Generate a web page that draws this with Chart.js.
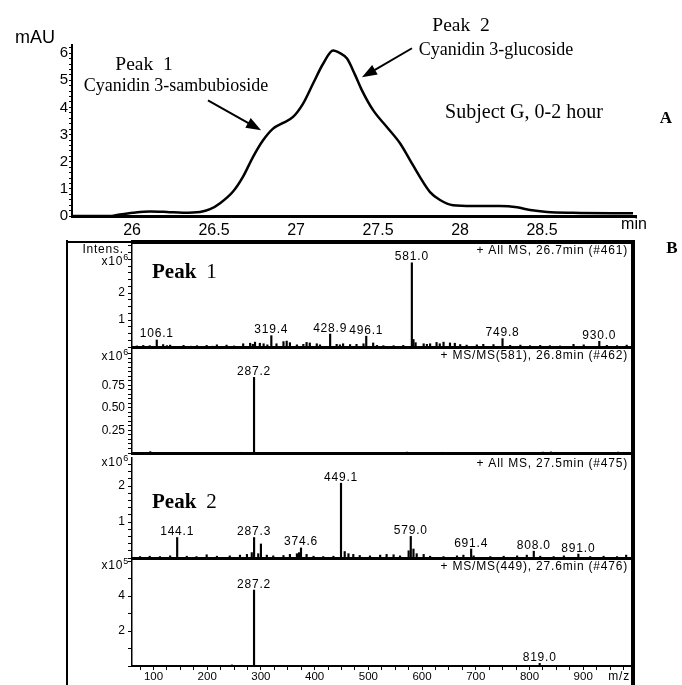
<!DOCTYPE html>
<html><head><meta charset="utf-8">
<script src="https://cdn.jsdelivr.net/npm/chart.js@4.4.1/dist/chart.umd.min.js"></script>
<style>
html,body{margin:0;padding:0;background:#fff;width:682px;height:685px;overflow:hidden}
body{position:relative}
canvas{position:absolute;left:0;top:0}
.ln{position:absolute;background:#000}
</style></head><body>
<div class="ln" style="left:66px;top:240px;width:1.5px;height:445px"></div>
<div class="ln" style="left:66px;top:241px;width:66px;height:2px"></div>
<div class="ln" style="left:131px;top:240px;width:503px;height:4px"></div>
<div class="ln" style="left:631px;top:240px;width:4px;height:445px"></div>
<canvas id="cA" width="682" height="685"></canvas>
<canvas id="c1" width="682" height="685"></canvas>
<canvas id="c2" width="682" height="685"></canvas>
<canvas id="c3" width="682" height="685"></canvas>
<canvas id="c4" width="682" height="685"></canvas>
<script>
// ---------------- DATA ----------------
// A: UV chromatogram (retention time, min / absorbance, mAU)
const chromTime = [25.634, 25.866, 25.909, 26.006, 26.110, 26.213, 26.311, 26.415, 26.476, 26.537,
                   26.616, 26.677, 26.738, 26.799, 26.860, 26.921, 26.982, 27.043, 27.104, 27.165,
                   27.226, 27.268, 27.311, 27.360, 27.402, 27.470, 27.555, 27.634, 27.695, 27.756,
                   27.817, 27.878, 27.957, 28.079, 28.244, 28.348, 28.427, 28.530, 28.689, 29.055];
const chromMAU  = [0, 0, 0.04, 0.12, 0.17, 0.15, 0.12, 0.15, 0.25, 0.47,
                   0.90, 1.45, 2.18, 2.79, 3.22, 3.43, 3.65, 4.14, 4.88, 5.61,
                   6.10, 6.00, 5.80, 5.20, 4.63, 3.90, 3.27, 2.68, 2.06, 1.43,
                   0.88, 0.59, 0.40, 0.37, 0.37, 0.32, 0.22, 0.15, 0.12, 0.10];
const timeTickLabels = [26, 26.5, 27, 27.5, 28, 28.5];
const mauTickLabels = [0, 1, 2, 3, 4, 5, 6];

// B1: + All MS, 26.7min (#461), intensity x10^6
const ms1PeakMz  = [106.1, 319.4, 428.9, 496.1, 581.0, 749.8, 930.0];
const ms1PeakInt = [0.26, 0.42, 0.48, 0.40, 3.12, 0.31, 0.21];
const ms1NoiseMz  = [69, 81, 93, 118, 125, 131, 156, 170, 181, 199, 210, 218, 236, 250, 267, 280, 285, 289, 298, 305,
                     312, 329, 342, 348, 354, 367, 379, 385, 391, 404, 410, 441, 447, 453, 466, 478, 491, 509, 516, 528,
                     547, 565, 584, 588, 603, 609, 615, 627, 633, 640, 652, 661, 671, 683, 702, 714, 733, 764, 783, 801,
                     820, 838, 857, 882, 901, 944, 963, 981];
const ms1NoiseInt = [0.04, 0.06, 0.05, 0.09, 0.05, 0.07, 0.06, 0.03, 0.05, 0.06, 0.03, 0.08, 0.07, 0.04, 0.12, 0.14, 0.10, 0.18, 0.14, 0.12,
                     0.08, 0.12, 0.20, 0.22, 0.16, 0.08, 0.10, 0.17, 0.15, 0.12, 0.08, 0.10, 0.08, 0.12, 0.09, 0.10, 0.12, 0.15, 0.06, 0.05,
                     0.05, 0.06, 0.28, 0.16, 0.12, 0.10, 0.12, 0.17, 0.12, 0.18, 0.15, 0.14, 0.09, 0.07, 0.08, 0.10, 0.09, 0.06, 0.07, 0.05,
                     0.06, 0.05, 0.04, 0.10, 0.08, 0.06, 0.05, 0.07];
const ms1TickLabels = [1, 2];

// B2: + MS/MS(581), 26.8min (#462), intensity x10^6
const ms2PeakMz  = [287.2];
const ms2PeakInt = [0.84];
const ms2NoiseMz  = [94, 245, 262, 572, 637, 825, 840, 850, 965, 975];
const ms2NoiseInt = [0.015, 0.006, 0.008, 0.010, 0.008, 0.010, 0.012, 0.008, 0.010, 0.008];
const ms2TickLabels = [0.25, 0.5, 0.75];

// B3: + All MS, 27.5min (#475), intensity x10^6
const ms3PeakMz  = [144.1, 287.3, 374.6, 449.1, 579.0, 691.4, 808.0, 891.0];
const ms3PeakInt = [0.57, 0.57, 0.28, 2.08, 0.60, 0.25, 0.19, 0.11];
const ms3NoiseMz  = [75, 93, 112, 131, 162, 180, 199, 218, 242, 261, 274, 283, 295, 300, 311, 323, 342, 354, 367, 371,
                     385, 398, 416, 435, 456, 463, 472, 484, 503, 522, 534, 547, 559, 575, 584, 590, 603, 615, 640, 665,
                     677, 696, 727, 752, 777, 795, 820, 845, 864, 913, 938, 963, 980];
const ms3NoiseInt = [0.04, 0.05, 0.04, 0.06, 0.05, 0.04, 0.09, 0.05, 0.06, 0.08, 0.10, 0.15, 0.12, 0.39, 0.08, 0.06, 0.07, 0.10, 0.12, 0.15,
                     0.10, 0.05, 0.04, 0.05, 0.18, 0.12, 0.10, 0.07, 0.06, 0.08, 0.10, 0.09, 0.06, 0.20, 0.25, 0.12, 0.10, 0.05, 0.04, 0.06,
                     0.08, 0.06, 0.04, 0.05, 0.06, 0.08, 0.05, 0.04, 0.06, 0.04, 0.05, 0.04, 0.08];
const ms3TickLabels = [1, 2];

// B4: + MS/MS(449), 27.6min (#476), intensity x10^5
const ms4PeakMz  = [287.2, 819.0];
const ms4PeakInt = [4.34, 0.15];
const ms4NoiseMz  = [246];
const ms4NoiseInt = [0.06];
const ms4TickLabels = [2, 4];

const mzTickLabels = [100, 200, 300, 400, 500, 600, 700, 800, 900];

// ---------------- STYLE / LAYOUT ----------------
const SANS = "'Liberation Sans', Arial, Helvetica, sans-serif";
const SERIF = "'Liberation Serif', 'Times New Roman', serif";
const W = 682, H = 685;
const near = (list, v) => list.some(t => Math.abs(t - v) < 1e-6);

function arrow(ctx, x1, y1, x2, y2) {
  const ang = Math.atan2(y2 - y1, x2 - x1), L = 15, hw = 5.5;
  ctx.save();
  ctx.strokeStyle = '#000'; ctx.fillStyle = '#000'; ctx.lineWidth = 2;
  ctx.beginPath(); ctx.moveTo(x1, y1);
  ctx.lineTo(x2 - Math.cos(ang) * L * 0.8, y2 - Math.sin(ang) * L * 0.8); ctx.stroke();
  ctx.beginPath(); ctx.moveTo(x2, y2);
  ctx.lineTo(x2 - Math.cos(ang) * L - Math.sin(ang) * hw, y2 - Math.sin(ang) * L + Math.cos(ang) * hw);
  ctx.lineTo(x2 - Math.cos(ang) * L + Math.sin(ang) * hw, y2 - Math.sin(ang) * L - Math.cos(ang) * hw);
  ctx.closePath(); ctx.fill();
  ctx.restore();
}

// annotations of panel A, anchored in data coordinates (min, mAU)
const chromNotes = [
  {text: 'Peak  1', t: 26.073, v: 5.55, font: '19.5px ' + SERIF},
  {text: 'Cyanidin 3-sambubioside', t: 26.268, v: 4.78, font: '18px ' + SERIF},
  {text: 'Peak  2', t: 28.006, v: 7.02, font: '19.5px ' + SERIF},
  {text: 'Cyanidin 3-glucoside', t: 28.22, v: 6.10, font: '18px ' + SERIF},
  {text: 'Subject G, 0-2 hour', t: 28.39, v: 3.79, font: '20px ' + SERIF},
  {text: 'A', t: 29.256, v: 3.6, font: 'bold 17px ' + SERIF}
];
const chromArrows = [
  {t1: 26.463, v1: 4.26, t2: 26.787, v2: 3.16},
  {t1: 27.707, v1: 6.18, t2: 27.402, v2: 5.11}
];

const chromPlugin = {
  id: 'chromNotes',
  afterDraw(chart) {
    const {ctx, chartArea: a, scales: {x, y}} = chart;
    ctx.save();
    ctx.fillStyle = '#000'; ctx.textAlign = 'center'; ctx.textBaseline = 'middle';
    chromNotes.forEach(n => { ctx.font = n.font; ctx.fillText(n.text, x.getPixelForValue(n.t), y.getPixelForValue(n.v)); });
    chromArrows.forEach(r => arrow(ctx, x.getPixelForValue(r.t1), y.getPixelForValue(r.v1), x.getPixelForValue(r.t2), y.getPixelForValue(r.v2)));
    ctx.font = '18px ' + SANS;
    ctx.fillText('mAU', a.left - 37, a.top - 7);
    ctx.font = '16px ' + SANS;
    ctx.fillText('min', a.right - 2, a.bottom + 9);
    ctx.restore();
  }
};

new Chart(document.getElementById('cA'), {
  type: 'line',
  data: {datasets: [{data: chromTime.map((t, i) => ({x: t, y: chromMAU[i]})), borderColor: '#000', borderWidth: 2.5,
    pointRadius: 0, tension: 0.4, cubicInterpolationMode: 'monotone', fill: false}]},
  options: {
    responsive: false, animation: false, devicePixelRatio: 1,
    layout: {padding: {left: 0, right: W - 636, top: 45, bottom: 0}},
    plugins: {legend: {display: false}, tooltip: {enabled: false}},
    scales: {
      x: {type: 'linear', min: 25.634, max: 29.073, afterFit: s => { s.height = H - 216; },
        border: {display: true, width: 3, color: '#000'},
        grid: {display: true, drawOnChartArea: false, drawTicks: false},
        ticks: {stepSize: 0.1, autoSkip: false, includeBounds: false, maxRotation: 0, minRotation: 0, padding: 5,
          color: '#000', font: {family: SANS, size: 16}, callback: v => near(timeTickLabels, v) ? String(v) : ''}},
      y: {min: 0, max: 6.3, afterFit: s => { s.width = 72; },
        border: {display: true, width: 2, color: '#000'},
        grid: {display: true, drawOnChartArea: false, tickLength: 3, color: '#000', lineWidth: 1},
        ticks: {stepSize: 0.2, autoSkip: false, includeBounds: false, padding: 1, color: '#000',
          font: {family: SANS, size: 15}, callback: v => near(mauTickLabels, v) ? String(Math.round(v)) : ''}}
    }
  },
  plugins: [chromPlugin]
});

// ---- mass spectra panels ----
const AREA_LEFT = 132, AREA_RIGHT = 631, MZ_MIN = 60, MZ_MAX = 989;

function spectrum(id, d, lay) {
  const pts = d.mz.map((m, i) => ({x: m, y: d.inten[i]}))
    .concat(d.noiseMz.map((m, i) => ({x: m, y: d.noiseInt[i]})))
    .sort((p, q) => p.x - q.x);
  const plug = {
    id: 'specText' + id,
    afterDraw(chart) {
      const {ctx, chartArea: a, scales: {x, y}} = chart;
      ctx.save();
      ctx.fillStyle = '#000';
      try { ctx.letterSpacing = '0.8px'; } catch (e) {}
      // title
      ctx.font = '12px ' + SANS; ctx.textAlign = 'right'; ctx.textBaseline = 'middle';
      ctx.fillText(d.title, a.right - 3, a.top + 5.5);
      // intensity exponent
      const ey = a.top + lay.expDy;
      ctx.font = '9px ' + SANS;
      const ew = ctx.measureText(d.exp).width;
      ctx.fillText(d.exp, a.left - 3, ey - 4);
      ctx.font = '12px ' + SANS;
      ctx.fillText('x10', a.left - 3 - ew, ey);
      if (d.intens) ctx.fillText('Intens.', a.left - 8, a.top + 5);
      // peak labels
      ctx.textAlign = 'center'; ctx.textBaseline = 'alphabetic';
      d.mz.forEach((m, i) => {
        if (d.labelled[i]) ctx.fillText(m.toFixed(1), x.getPixelForValue(m), y.getPixelForValue(d.inten[i]) - 2.5);
      });
      try { ctx.letterSpacing = '0px'; } catch (e) {}
      if (d.peakName) {
        const px = x.getPixelForValue(lay.nameMz), py = y.getPixelForValue(lay.nameInt);
        ctx.textAlign = 'left';
        ctx.font = 'bold 21px ' + SERIF;
        ctx.fillText('Peak', px, py);
        const w = ctx.measureText('Peak').width;
        ctx.font = '21px ' + SERIF;
        ctx.fillText(d.peakName, px + w + 10, py);
      }
      if (d.panelLetter) {
        ctx.font = 'bold 17px ' + SERIF; ctx.textAlign = 'center'; ctx.textBaseline = 'middle';
        ctx.fillText(d.panelLetter, 672, a.top + 4);
      }
      if (lay.showX) {
        ctx.font = '12px ' + SANS; ctx.textAlign = 'right'; ctx.textBaseline = 'middle';
        try { ctx.letterSpacing = '0.8px'; } catch (e) {}
        ctx.fillText('m/z', a.right - 1, a.bottom + 11);
      }
      ctx.restore();
    }
  };
  return new Chart(document.getElementById(id), {
    type: 'bar',
    data: {datasets: [{data: pts, backgroundColor: '#000', borderWidth: 0, barThickness: 1.5}]},
    options: {
      responsive: false, animation: false, devicePixelRatio: 1,
      layout: {padding: {left: 0, right: W - AREA_RIGHT, top: lay.top, bottom: 0}},
      plugins: {legend: {display: false}, tooltip: {enabled: false}},
      scales: {
        x: {type: 'linear', min: MZ_MIN, max: MZ_MAX, offset: false, afterFit: s => { s.height = H - lay.bottom; },
          border: {display: true, width: lay.showX ? 2 : 3, color: '#000'},
          grid: {display: true, offset: false, drawOnChartArea: false, drawTicks: lay.showX, tickLength: 4, color: '#000', lineWidth: 1},
          ticks: {display: lay.showX, stepSize: 25, autoSkip: false, includeBounds: false, maxRotation: 0, minRotation: 0,
            padding: 0, color: '#000', font: {family: SANS, size: 11.5},
            callback: v => near(mzTickLabels, v) ? String(v) : ''}},
        y: {min: 0, max: lay.max, afterFit: s => { s.width = AREA_LEFT; },
          border: {display: true, width: 1.5, color: '#000'},
          grid: {display: true, drawOnChartArea: false, tickLength: 4, color: '#000', lineWidth: 1},
          ticks: {stepSize: lay.step, autoSkip: false, includeBounds: false, padding: 3, color: '#000',
            font: {family: SANS, size: 12}, callback: v => near(d.tickLabels, v) ? d.fmt(v) : ''}}
      }
    },
    plugins: [plug]
  });
}

spectrum('c1', {mz: ms1PeakMz, inten: ms1PeakInt, noiseMz: ms1NoiseMz, noiseInt: ms1NoiseInt, labelled: ms1PeakMz.map(() => true),
  title: '+ All MS, 26.7min (#461)', exp: '6', intens: true, tickLabels: ms1TickLabels, fmt: v => String(Math.round(v)),
  peakName: '1', panelLetter: 'B'},
  {top: 245, bottom: 347, max: 3.78, step: 0.25, expDy: 17, nameMz: 97.2, nameInt: 2.56, showX: false});

spectrum('c2', {mz: ms2PeakMz, inten: ms2PeakInt, noiseMz: ms2NoiseMz, noiseInt: ms2NoiseInt, labelled: [true],
  title: '+ MS/MS(581), 26.8min (#462)', exp: '6', tickLabels: ms2TickLabels, fmt: v => v.toFixed(2)},
  {top: 350, bottom: 453, max: 1.144, step: 0.05, expDy: 7, showX: false});

spectrum('c3', {mz: ms3PeakMz, inten: ms3PeakInt, noiseMz: ms3NoiseMz, noiseInt: ms3NoiseInt, labelled: ms3PeakMz.map(() => true),
  title: '+ All MS, 27.5min (#475)', exp: '6', tickLabels: ms3TickLabels, fmt: v => String(Math.round(v)), peakName: '2'},
  {top: 458, bottom: 558, max: 2.78, step: 0.2, expDy: 5, nameMz: 97.2, nameInt: 1.39, showX: false});

spectrum('c4', {mz: ms4PeakMz, inten: ms4PeakInt, noiseMz: ms4NoiseMz, noiseInt: ms4NoiseInt, labelled: [true, true],
  title: '+ MS/MS(449), 27.6min (#476)', exp: '5', tickLabels: ms4TickLabels, fmt: v => String(Math.round(v))},
  {top: 561, bottom: 666, max: 6.0, step: 1, expDy: 5, showX: true});
</script>
</body></html>
